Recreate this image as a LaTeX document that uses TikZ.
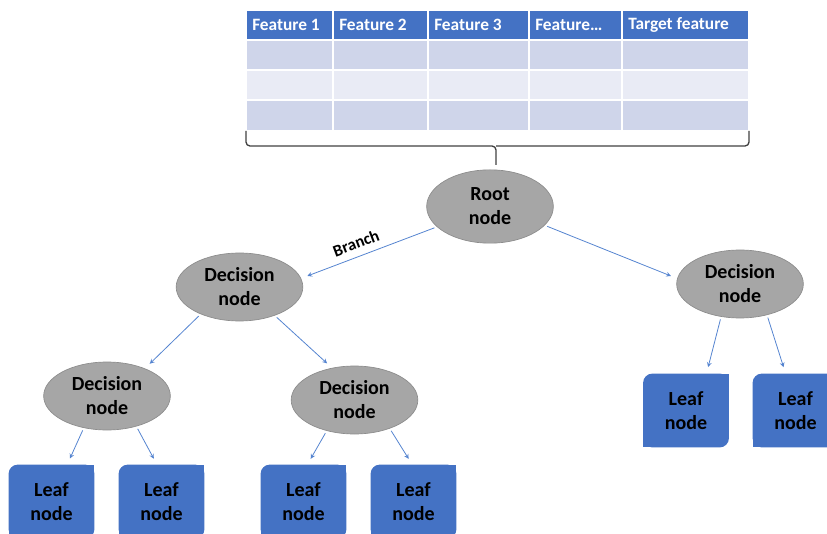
\documentclass[tikz,border=0pt]{standalone}
\usepackage{fontspec}
\setmainfont{Carlito}
\usetikzlibrary{shapes.geometric,backgrounds}
\definecolor{hdrblue}{HTML}{4472C4}
\definecolor{rowdark}{HTML}{CFD5EA}
\definecolor{rowlight}{HTML}{E9EBF5}
\definecolor{nodegray}{HTML}{A6A6A6}
\definecolor{nodeline}{HTML}{8C8C8C}
\definecolor{arrblue}{HTML}{5584D0}
\begin{document}
\begin{tikzpicture}[x=0.75pt, y=-0.75pt, >=stealth,
	hdr/.style={text=white, font=\bfseries\fontsize{13}{15}\selectfont, inner sep=0pt, anchor=west},
	dnode/.style={ellipse, fill=nodegray, draw=nodeline, line width=0.5pt, inner sep=0pt, minimum width=95pt, minimum height=51pt, align=center, font=\bfseries\fontsize{15}{18}\selectfont},
	leaf/.style={rectangle, inner sep=0pt, minimum width=64pt, minimum height=55pt, align=center, font=\bfseries\fontsize{15}{18}\selectfont},
	arr/.style={->, arrblue, line width=0.6pt, shorten <=2pt, shorten >=5pt},
	tblbrace/.style={draw=black!75, line width=1pt, rounded corners=3pt}]
		\clip (0,0) rectangle (827,534);
		% table
		\foreach \xa/\xb in {246/333, 333/428, 428/529, 529/622, 622/749}{
			\fill[hdrblue, draw=white, line width=1.2pt] (\xa,10) rectangle (\xb,40);
			\foreach \ya/\yb/\col in {40/70/rowdark, 70/100/rowlight, 100/131/rowdark}
				\fill[\col, draw=white, line width=1.2pt] (\xa,\ya) rectangle (\xb,\yb);
		}
		\foreach \xa/\txt [count=\i] in {246/Feature 1, 333/Feature 2, 428/Feature 3, 529/Feature…, 622/Target feature}
			\node[hdr] (h\i) at (\xa+6,25) {\txt};
		\coordinate (tl) at (246,131);
		\coordinate (tr) at (749,131);
		\coordinate (tm) at (496,146);
		\coordinate (tip) at (496,165);
		\draw[tblbrace] (tl) |- (tm) -- (tip);
		\draw[tblbrace] (tr) |- (tm);
		% tree
		\node[dnode, minimum height=55pt] (root) at (490,206.5) {Root\\node};
		\node[dnode] (dl) at (239.5,287) {Decision\\node};
		\node[dnode] (dr) at (740,284) {Decision\\node};
		\node[dnode] (bl) at (107,396) {Decision\\node};
		\node[dnode] (bm) at (354.5,400) {Decision\\node};
		\foreach \n/\x/\y in {l1/51.5/501.5, l2/161.5/501.5, l3/303.5/501.5, l4/413.5/501.5, l5/686/410.5, l6/795.5/410.5}
			\node[leaf] (\n) at (\x,\y) {Leaf\\node};
		\begin{scope}[on background layer]
			\foreach \n in {l1,l2,l3,l4,l5,l6}{
				\fill[hdrblue, rounded corners=7pt] (\n.south west) rectangle (\n.north east);
				\fill[hdrblue] (\n.north east) rectangle ++(-10pt,-10pt);
				\fill[hdrblue] (\n.south west) rectangle ++(10pt,10pt);
			}
		\end{scope}
		\draw[arr] (root.201) -- (dl.8) node[pos=0.56, above=2pt, sloped, text=black, font=\bfseries\fontsize{12.5}{15}\selectfont]{Branch};
		\draw[arr] (root.341) -- (dr.175);
		\draw[arr] (dl.215) -- (bl.36);
		\draw[arr] (dl.321) -- (bm.125);
		\draw[arr] (bl.234) -- (l1.67);
		\draw[arr] (bl.314) -- (l2.97);
		\draw[arr] (bm.228) -- (l3.84);
		\draw[arr] (bm.321) -- (l4.92);
		\draw[arr] (dr.240) -- (l5.61);
		\draw[arr] (dr.311) -- (l6.105);
\end{tikzpicture}
\end{document}
